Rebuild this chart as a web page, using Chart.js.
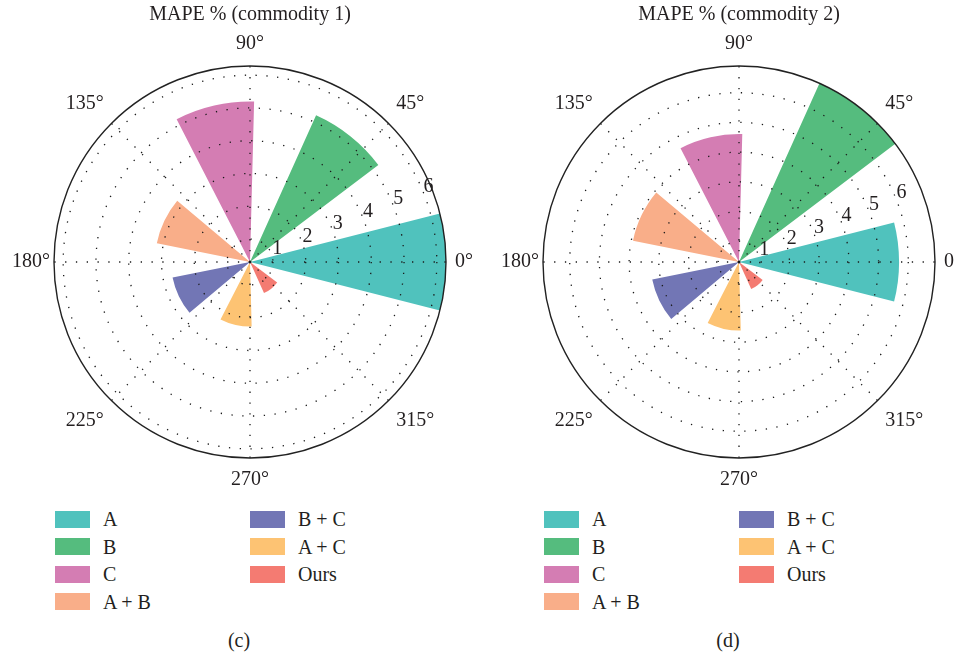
<!DOCTYPE html>
<html>
<head>
<meta charset="utf-8">
<script src="https://cdn.jsdelivr.net/npm/chart.js@4.4.1/dist/chart.umd.min.js"></script>
<style>
  html, body { margin: 0; padding: 0; background: #fff; }
  body {
    position: relative; width: 955px; height: 654px; overflow: hidden;
    font-family: "Liberation Serif", "DejaVu Serif", serif; color: #231f20;
  }
  canvas { position: absolute; top: 0; }
  .title { position: absolute; top: 0; width: 300px; text-align: center; font-size: 20px; line-height: 26px; }
  .item { position: absolute; height: 28px; line-height: 28px; font-size: 20px; white-space: nowrap; }
  .sw { position: absolute; left: 0; top: 5.5px; width: 35px; height: 17px; }
  .txt { position: absolute; left: 48px; top: 0; }
  .cap { position: absolute; top: 627px; width: 60px; text-align: center; font-size: 20px; line-height: 26px; }
</style>
</head>
<body>
<canvas id="polar1" width="490" height="500" style="left:0px"></canvas>
<canvas id="polar2" width="490" height="500" style="left:489px"></canvas>
<div id="overlay"></div>
<script>
// ---- data ----
const methods = ['A', 'B', 'C', 'A + B', 'B + C', 'A + C', 'Ours'];
const colors = ['#50c2bd', '#55bc7e', '#d47db3', '#f9ae89', '#7276b5', '#fdc373', '#f47b72'];
const mape1 = [6.28, 5.21, 5.2, 3.2, 2.71, 2.27, 1.34];
const mape2 = [5.69, 6.9, 4.61, 3.94, 3.28, 2.61, 1.3];
const radialTicks = [1, 2, 3, 4, 5, 6];
const angleTicks = ['0°', '45°', '90°', '135°', '180°', '225°', '270°', '315°'];
const titles = ['MAPE % (commodity 1)', 'MAPE % (commodity 2)'];
const captions = ['(c)', '(d)'];

// ---- layout constants ----
const R_MIN = 0.3;                        // radial axis origin
const BAR_STEP = 360 / methods.length;    // wedge centres, counter-clockwise from 0°
const BAR_WIDTH = 0.5 * 180 / Math.PI;    // wedge width (0.5 rad)
const LABEL_ANGLE = 22.5;                 // direction of the radial tick labels
const TEXT = '#231f20';
const DOT = '#1a1a1a';
const FONT = '"Liberation Serif", "DejaVu Serif", serif';

// Chart.js sweeps clockwise from the first label direction; the wedges are
// laid out as alternating gap / bar arcs starting at LABEL_ANGLE.
function buildSegments(values) {
  const bars = values.map((v, k) => {
    const u = ((LABEL_ANGLE - k * BAR_STEP) % 360 + 360) % 360;
    return { start: u - BAR_WIDTH / 2, end: u + BAR_WIDTH / 2, value: v, color: colors[k] };
  }).sort((a, b) => a.start - b.start);
  const data = [], angles = [], fills = [];
  let pos = 0;
  for (const b of bars) {
    if (b.start > pos) { data.push(R_MIN); angles.push(b.start - pos); fills.push('rgba(0,0,0,0)'); }
    data.push(b.value); angles.push(b.end - b.start); fills.push(b.color);
    pos = b.end;
  }
  if (pos < 360) { data.push(R_MIN); angles.push(360 - pos); fills.push('rgba(0,0,0,0)'); }
  return { data, angles, fills };
}

// 16 spokes every 22.5°, only the multiples of 45° are labelled and drawn
const spokeLabels = Array.from({ length: 16 }, (_, i) => {
  const a = ((LABEL_ANGLE - 22.5 * i) % 360 + 360) % 360;
  return a % 45 === 0 ? angleTicks[a / 45] : '';
});
const spokePadding = { '0°': 9, '90°': 10, '180°': 4, '270°': 10 };

// radial tick numbers drawn upright along LABEL_ANGLE
const radialTickLabels = {
  id: 'radialTickLabels',
  afterDraw(chart) {
    const s = chart.scales.r, ctx = chart.ctx;
    const a = LABEL_ANGLE * Math.PI / 180;
    ctx.save();
    ctx.font = '20px ' + FONT;
    ctx.fillStyle = TEXT;
    ctx.textAlign = 'center';
    ctx.textBaseline = 'middle';
    radialTicks.forEach(v => {
      const d = s.getDistanceFromCenterForValue(v);
      ctx.fillText(String(v), s.xCenter + d * Math.cos(a) + 6, s.yCenter - d * Math.sin(a) - 4);
    });
    ctx.restore();
  }
};

function makeChart(id, values) {
  const seg = buildSegments(values);
  const rMax = Math.max(...values);
  const isSpine = (c) => c.tick && c.tick.value === rMax;
  return new Chart(document.getElementById(id), {
    type: 'polarArea',
    data: {
      labels: spokeLabels,
      datasets: [{
        data: seg.data,
        backgroundColor: seg.fills,
        borderWidth: 0,
        angle: (c) => seg.angles[c.dataIndex]
      }]
    },
    options: {
      responsive: false,
      animation: false,
      layout: { padding: { top: 24, left: 5, right: 9, bottom: 0 } },
      plugins: { legend: { display: false }, tooltip: { enabled: false } },
      scales: {
        r: {
          min: R_MIN,
          max: rMax,
          startAngle: 90 - LABEL_ANGLE,
          afterBuildTicks: (s) => { s.ticks = [R_MIN, ...radialTicks, rMax].map(v => ({ value: v })); },
          ticks: { display: false },
          grid: {
            z: 1,
            circular: true,
            color: (c) => isSpine(c) ? '#222' : DOT,
            lineWidth: (c) => isSpine(c) ? 1.4 : 1.3
          },
          border: { dash: (c) => isSpine(c) ? [] : [1.3, 9.5] },
          angleLines: {
            display: true,
            color: DOT,
            lineWidth: (c) => spokeLabels[c.index] ? 1.3 : 0,
            borderDash: [1.3, 9.5]
          },
          pointLabels: {
            display: true,
            color: TEXT,
            font: { family: FONT, size: 20 },
            padding: (c) => c.label ? (spokePadding[c.label] !== undefined ? spokePadding[c.label] : 11) : 10
          }
        }
      }
    },
    plugins: [radialTickLabels]
  });
}

makeChart('polar1', mape1);
makeChart('polar2', mape2);

// ---- titles, legends and captions ----
const overlay = document.getElementById('overlay');
const panelShift = [0, 489];
panelShift.forEach((dx, p) => {
  const t = document.createElement('div');
  t.className = 'title';
  t.style.left = (250 + dx - 150) + 'px';
  t.textContent = titles[p];
  overlay.appendChild(t);

  methods.forEach((m, k) => {
    const col = k < 4 ? 0 : 1, row = k < 4 ? k : k - 4;
    const it = document.createElement('div');
    it.className = 'item';
    it.style.left = (55 + col * 195 + dx) + 'px';
    it.style.top = (505 + row * 27.5) + 'px';
    const sw = document.createElement('div');
    sw.className = 'sw';
    sw.style.background = colors[k];
    const tx = document.createElement('span');
    tx.className = 'txt';
    tx.textContent = m;
    it.appendChild(sw); it.appendChild(tx);
    overlay.appendChild(it);
  });

  const c = document.createElement('div');
  c.className = 'cap';
  c.style.left = (239 + dx - 30) + 'px';
  c.textContent = captions[p];
  overlay.appendChild(c);
});
</script>
</body>
</html>
